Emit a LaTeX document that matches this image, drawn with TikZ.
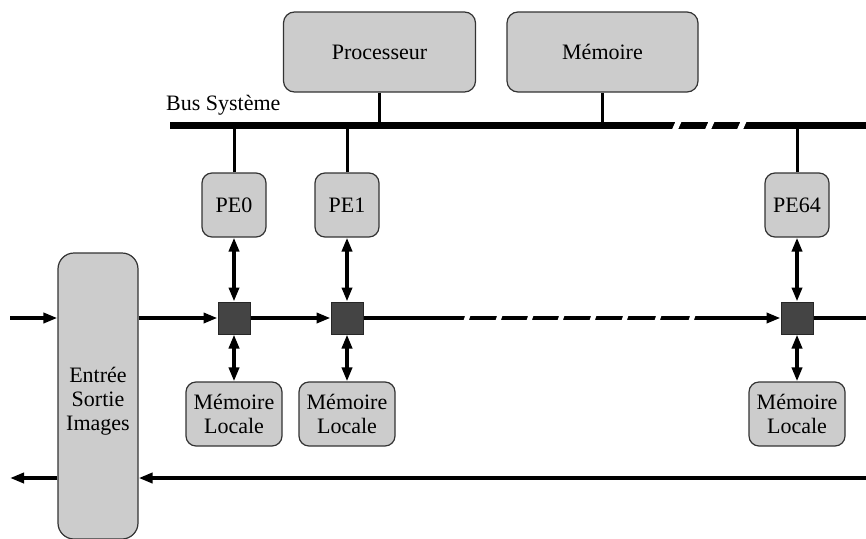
\documentclass[tikz,border=0pt]{standalone}
\usepackage{fontspec}
\setmainfont{Liberation Serif}
\usetikzlibrary{arrows.meta}
\definecolor{boxfill}{HTML}{CCCCCC}
\definecolor{boxline}{HTML}{333333}
\definecolor{nodefill}{HTML}{444444}

\begin{document}
\begin{tikzpicture}[x=1pt,y=-1pt,
  font=\fontsize{22}{24}\selectfont,
  block/.style={draw=boxline, fill=boxfill, line width=1.2pt, rounded corners=#1,
                inner sep=0pt, align=center},
  block/.default=11pt,
  xbar/.style={draw=black!85, fill=nodefill, line width=1pt, minimum size=32pt, inner sep=0pt},
  flow/.style={line width=4pt, -{Triangle[length=14pt,width=10pt]}},
  duplex/.style={line width=4pt,
                 {Triangle[length=14pt,width=10pt]}-{Triangle[length=14pt,width=10pt]}},
  tap/.style={line width=3pt},
  busline/.style={line width=7pt},
  cut/.style={white, line width=5pt},
]
\useasboundingbox (0,0) rectangle (866,538);

% host side
\node[block, minimum width=192pt, minimum height=80pt] (cpu) at (379.5,52) {Processeur};
\node[block, minimum width=191pt, minimum height=80pt] (mem) at (602.5,52) {Mémoire};
\node[anchor=base west, inner sep=0pt] (buslbl) at (166,110) {Bus Système};

% system bus
\coordinate (busL) at (170,125);
\coordinate (busR) at (866,125);
\draw[busline] (busL) -- (busR);
\foreach \x in {677,710,742}
  \draw[cut, line width=5.5pt] (\x-4,134) -- (\x+4,116);

% processing elements, crossbar points and local memories
\foreach \n/\x in {0/234, 1/347, 64/797} {
  \node[block=10pt, minimum width=64pt, minimum height=64pt] (pe\n) at (\x,205) {PE\n};
  \node[xbar] (sw\n) at (\x,318) {};
  \node[block=10pt, minimum width=96pt, minimum height=64pt] (lm\n) at (\x,414) {Mémoire\\Locale};
  \draw[tap] (pe\n.north) -- (pe\n.north |- busL);
  \draw[duplex] (pe\n) -- (sw\n);
  \draw[duplex] (sw\n) -- (lm\n);
}
\draw[tap] (cpu.south) -- (cpu.south |- busL);
\draw[tap] (mem.south) -- (mem.south |- busL);

% image input / output unit
\node[block=16pt, minimum width=80pt, minimum height=286pt] (io) at (98,396) {};
\node[align=center, inner sep=0pt] (iotext) at (98,401) {Entrée\\Sortie\\Images};

% image data path
\coordinate (inL) at (10,318);
\coordinate (outR) at (866,318);
\draw[flow] (inL) -- (io.west |- inL);
\draw[flow] (io.east |- sw0) -- (sw0);
\draw[flow] (sw0) -- (sw1);
\draw[flow] (sw1) -- (sw64);
\draw[line width=4pt] (sw64) -- (outR);
\foreach \x in {467,499,530,561,593,625,658,692}
  \draw[cut] (\x-3,327) -- (\x+3,309);

% return path
\coordinate (retR) at (866,478);
\coordinate (retL) at (10,478);
\draw[flow] (retR) -- (io.east |- retR);
\draw[flow] (io.west |- retR) -- (retL);
\end{tikzpicture}
\end{document}
